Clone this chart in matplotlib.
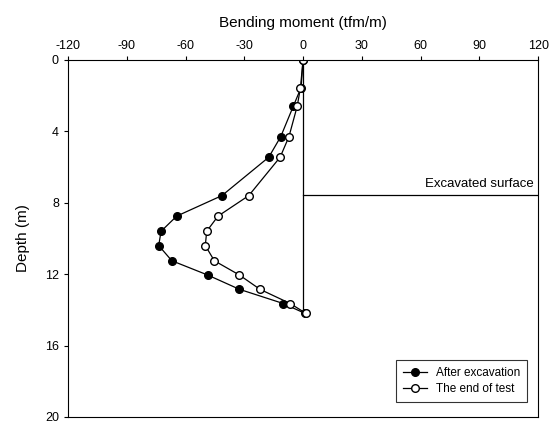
import matplotlib
matplotlib.use("Agg")
import matplotlib.pyplot as plt

plt.rcParams['font.family'] = ['Liberation Sans', 'DejaVu Sans']
plt.rcParams['axes.unicode_minus'] = False

# Глубина (м) и изгибающий момент (тс·м/м)
depth = [0, 1.55, 2.6, 4.3, 5.45, 7.6, 8.75, 9.6, 10.4, 11.25, 12.05, 12.85, 13.65, 14.2]
m_after = [0, -1.0, -5.0, -11.4, -17.5, -41.4, -64.5, -72.5, -73.7, -67.0, -48.7, -32.5, -10.0, 1.0]
m_end = [0, -1.3, -3.0, -7.2, -11.7, -27.7, -43.4, -49.2, -49.9, -45.3, -32.5, -22.0, -6.5, 1.5]

excavated_depth = 7.55
xticks = [-120, -90, -60, -30, 0, 30, 60, 90, 120]
yticks = [0, 4, 8, 12, 16, 20]

fig = plt.figure(figsize=(5.53, 4.25), dpi=100)
ax = fig.add_axes([0.123, 0.019, 0.850, 0.840])

# вертикальная линия стены и уровень выемки
ax.plot([0, 0], [0, depth[-1]], color='black', linewidth=0.9)
ax.plot([0, 120], [excavated_depth, excavated_depth], color='black', linewidth=0.9)
ax.text(118, excavated_depth - 0.25, 'Excavated surface', ha='right', va='bottom', fontsize=9.5)

ax.plot(m_after, depth, color='black', linewidth=0.9, marker='o', markersize=5.5,
        markerfacecolor='black', markeredgecolor='black', label='After excavation')
ax.plot(m_end, depth, color='black', linewidth=0.9, marker='o', markersize=5.5,
        markerfacecolor='white', markeredgecolor='black', label='The end of test')

ax.set_xlim(-120, 120)
ax.set_ylim(20, 0)
ax.set_xticks(xticks)
ax.set_yticks(yticks)
ax.xaxis.tick_top()
ax.xaxis.set_label_position('top')
ax.tick_params(axis='both', direction='out', length=3, width=0.8, labelsize=9)
ax.tick_params(axis='x', pad=3)
ax.set_xlabel('Bending moment (tfm/m)', fontsize=11, labelpad=9)
ax.set_ylabel('Depth (m)', fontsize=11, labelpad=11)
for s in ax.spines.values():
    s.set_linewidth(0.8)

leg = ax.legend(loc='lower right', fontsize=8.5, frameon=True, fancybox=False,
                edgecolor='black', handlelength=2.0, borderpad=0.6,
                labelspacing=0.3, bbox_to_anchor=(0.99, 0.025))
leg.get_frame().set_linewidth(0.8)

fig.savefig('out.png', dpi=100)
